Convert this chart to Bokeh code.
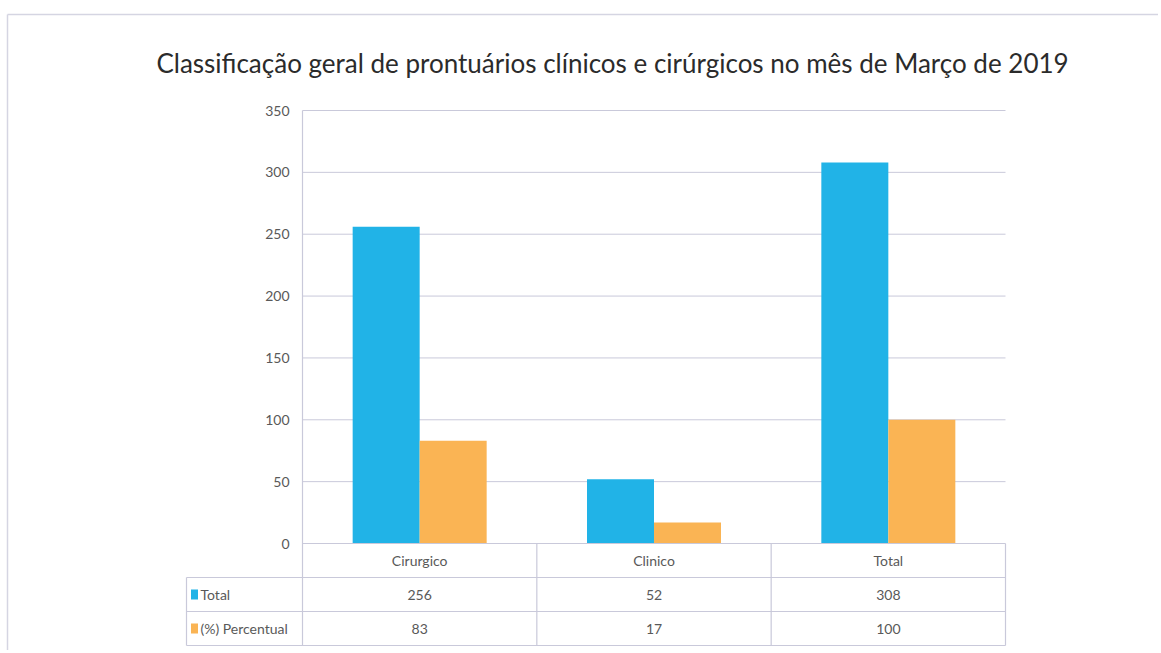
import numpy as np
from bokeh.plotting import figure
from bokeh.models import Range1d
from bokeh.core.properties import value
from bokeh.embed import file_html
from bokeh.resources import INLINE

# ---- data ----
categories = ["Cirurgico", "Clinico", "Total"]
total = [256, 52, 308]
percentual = [83, 17, 100]
series_names = ["Total", "(%) Percentual"]
y_ticks = [0, 50, 100, 150, 200, 250, 300, 350]
title = "Classificação geral de prontuários clínicos e cirúrgicos no mês de Março de 2019"

# ---- styles ----
BLUE = "#21B3E7"
ORANGE = "#FAB454"
GRID = "#C9C9DA"
TEXT = "#595959"
FONT = "Lato"

# ---- layout (page pixel geometry) ----
W, H = 1158, 650
PAGE = 0
X0 = 302.0            # page px of x=0 (plot left)
X1 = 1005.0           # page px of plot right
Y0 = 543.0            # page px of y=0
YTOP = 110.0          # page px of top tick
n = len(categories)
PX_X = (X1 - X0) / n
PX_Y = (Y0 - YTOP) / y_ticks[-1]

def px_x(px):
    return (px - X0) / PX_X

def px_y(py):
    return (Y0 - py) / PX_Y

x_start, x_end = px_x(PAGE), px_x(PAGE + W)
y_end, y_start = px_y(PAGE), px_y(PAGE + H)

p = figure(width=W, height=H, x_range=Range1d(x_start, x_end),
           y_range=Range1d(y_start, y_end), output_backend="svg",
           toolbar_location=None, x_axis_location=None, y_axis_location=None,
           min_border=0, min_border_left=0, min_border_right=0,
           min_border_top=0, min_border_bottom=0)
p.grid.visible = False
p.outline_line_color = None
p.background_fill_color = "white"
p.border_fill_color = "white"

# outer frame lines
p.segment(x0=[px_x(7), px_x(7)], y0=[px_y(14), px_y(14)],
          x1=[x_end, px_x(7)], y1=[px_y(14), y_start],
          line_color="#D5D5E2", line_width=1.5)

# title
p.text(x=[px_x(612)], y=[px_y(62)], text=[title], text_font=value(FONT),
       text_font_size="26px", text_color="#2B2B2B", text_align="center",
       text_baseline="middle", text_font_style="normal")

# gridlines
gy = y_ticks[1:]
p.segment(x0=[0] * len(gy), y0=gy, x1=[n] * len(gy), y1=gy,
          line_color=GRID, line_width=1)

# table geometry
row_h = (645 - Y0) / 3 / PX_Y
legend_left = px_x(186)
rows = [0, -row_h, -2 * row_h, -3 * row_h]

# bars
xs = np.arange(n) + 0.5
bw = 67 / PX_X
p.vbar(x=xs - bw / 2, top=total, width=bw, bottom=0, fill_color=BLUE, line_color=None)
p.vbar(x=xs + bw / 2, top=percentual, width=bw, bottom=0, fill_color=ORANGE, line_color=None)

# table horizontal lines
p.segment(x0=[0, legend_left, legend_left, legend_left], y0=rows,
          x1=[n] * 4, y1=rows, line_color=GRID, line_width=1.2)
# axis line + table verticals
vx = list(range(n + 1))
p.segment(x0=[0], y0=[y_ticks[-1]], x1=[0], y1=[rows[-1]], line_color=GRID, line_width=1.2)
p.segment(x0=vx[1:], y0=[0] * n, x1=vx[1:], y1=[rows[-1]] * n, line_color=GRID, line_width=1.2)
p.segment(x0=[legend_left], y0=[rows[1]], x1=[legend_left], y1=[rows[-1]], line_color=GRID, line_width=1.2)

# y tick labels
p.text(x=[px_x(289)] * len(y_ticks), y=y_ticks, text=[str(t) for t in y_ticks],
       text_font=value(FONT), text_font_size="14px", text_color=TEXT,
       text_align="right", text_baseline="middle")

# table texts
p.text(x=xs, y=[-row_h / 2] * n, text=categories, text_font=value(FONT),
       text_font_size="14px", text_color=TEXT, text_align="center", text_baseline="middle")
p.text(x=xs, y=[-1.5 * row_h] * n, text=[str(v) for v in total], text_font=value(FONT),
       text_font_size="14px", text_color=TEXT, text_align="center", text_baseline="middle")
p.text(x=xs, y=[-2.5 * row_h] * n, text=[str(v) for v in percentual], text_font=value(FONT),
       text_font_size="14px", text_color=TEXT, text_align="center", text_baseline="middle")

# legend keys in the table
ky = [-1.5 * row_h, -2.5 * row_h]
p.rect(x=[px_x(194)] * 2, y=ky, width=7, height=10, width_units="screen",
       height_units="screen", fill_color=[BLUE, ORANGE], line_color=None)
p.text(x=[px_x(200)] * 2, y=ky, text=series_names, text_font=value(FONT),
       text_font_size="14px", text_color=TEXT, text_align="left", text_baseline="middle")

open("out.html", "w").write(file_html(p, INLINE))
